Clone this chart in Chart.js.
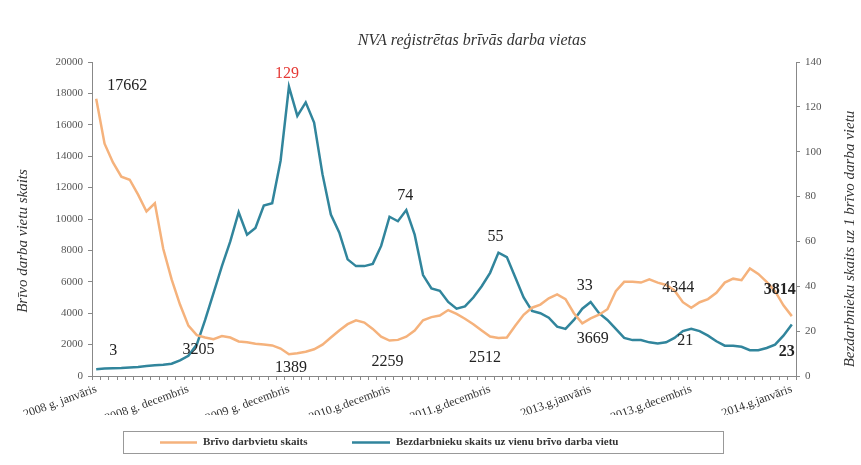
<!DOCTYPE html>
<html><head><meta charset="utf-8">
<script src="https://cdn.jsdelivr.net/npm/chart.js@4.4.1/dist/chart.umd.min.js"></script>
<style>html,body{margin:0;padding:0;background:#fff;}</style>
</head><body>
<canvas id="c" width="861" height="465"></canvas>
<script>
// ---- DATA ----
const chartTitle = 'NVA reģistrētas brīvās darba vietas';
const leftAxisTitle = 'Brīvo darba vietu skaits';
const rightAxisTitle = 'Bezdarbnieku skaits uz 1 brīvo darba vietu';
const seriesNames = ['Brīvo darbvietu skaits', 'Bezdarbnieku skaits uz vienu brīvo darba vietu'];
const tickLabels = ['2008 g. janvāris','2008 g. decembris','2009 g. decembris','2010.g.decembris','2011.g.decembris','2013.g.janvāris','2013.g.decembris','2014.g.janvāris'];
const tickIndex = [0,11,23,35,47,59,71,83];
const vacancies = [17662,14800,13600,12700,12500,11550,10480,11000,8100,6150,4550,3205,
  2600,2450,2350,2550,2450,2200,2150,2050,2000,1950,1750,1389,
  1450,1550,1700,2000,2450,2900,3300,3550,3400,3000,2500,2259,
  2300,2500,2900,3550,3750,3850,4200,3950,3650,3300,2900,2512,
  2420,2450,3200,3900,4350,4550,4950,5200,4900,4000,3350,3669,
  3900,4250,5400,6000,6000,5950,6150,5950,5800,5450,4700,4344,
  4700,4900,5300,5950,6200,6100,6850,6500,6000,5400,4500,3814];
const ratio = [3,3.3,3.5,3.6,3.8,4,4.5,4.8,5,5.5,7,9,
  14,25,37,49,60,73,63,66,76,77,96,129,
  116,122,113,90,72,64,52,49,49,50,58,71,
  69,74,63,45,39,38,33,30,31,35,40,46,
  55,53,44,35,29,28,26,22,21,25,30,33,
  28,25,21,17,16,16,15,14.5,15,17,20,21,
  20,18,15.5,13.5,13.5,13,11.5,11.5,12.5,14,18,23];
const vacancyLabelIdx = [0,11,23,35,47,59,71,83];
const ratioLabelIdx = [0,23,37,48,59,71,83];

// ---- STYLE ----
const orange = '#f5b27c', teal = '#31859c';
const serif = '"Liberation Serif", "Times New Roman", serif';
// label offsets (px) per labelled point, style only
const vacLabelStyle = [
  {dx:31,dy:-13},{dx:10,dy:24},{dx:2,dy:14},{dx:-2,dy:21},{dx:-5,dy:21},{dx:2,dy:20},{dx:-13,dy:-20},{dx:-12,dy:-26,bold:true}];
const ratioLabelStyle = [
  {dx:17,dy:-18},{dx:-2,dy:-13,color:'#e53935'},{dx:-1,dy:-14},{dx:-3,dy:-16},{dx:-6,dy:-16},{dx:-6,dy:12},{dx:-5,dy:27,bold:true}];

const categories = vacancies.map((v,i)=>{const k=tickIndex.indexOf(i);return k>=0?tickLabels[k]:'';});

const overlay = {
  id:'overlay',
  afterDraw(chart){
    const ctx = chart.ctx, ca = chart.chartArea;
    ctx.save();
    ctx.fillStyle = '#333';
    ctx.textAlign='center'; ctx.textBaseline='middle';
    ctx.font = 'italic 16px ' + serif;
    ctx.fillText(chartTitle, (ca.left+ca.right)/2 + 28, 41);
    ctx.font = 'italic 15px ' + serif;
    ctx.save(); ctx.translate(23, (ca.top+ca.bottom)/2 + 22); ctx.rotate(-Math.PI/2);
    ctx.fillText(leftAxisTitle, 0, 0); ctx.restore();
    ctx.save(); ctx.translate(850, (ca.top+ca.bottom)/2 + 20); ctx.rotate(-Math.PI/2);
    ctx.fillText(rightAxisTitle, 0, 0); ctx.restore();
    // data labels
    const drawLabels = (di, idxs, styles, vals) => {
      const meta = chart.getDatasetMeta(di);
      idxs.forEach((idx,k)=>{
        const p = meta.data[idx], s = styles[k];
        ctx.font = (s.bold?'bold ':'') + '16px ' + serif;
        ctx.fillStyle = s.color || '#222';
        ctx.fillText(String(vals[idx]), p.x + s.dx, p.y + s.dy);
      });
    };
    drawLabels(0, vacancyLabelIdx, vacLabelStyle, vacancies);
    drawLabels(1, ratioLabelIdx, ratioLabelStyle, ratio);
    // legend
    const lx = 123, ly = 431, lw = 600, lh = 22;
    ctx.strokeStyle = '#999'; ctx.lineWidth = 1;
    ctx.strokeRect(lx+0.5, ly+0.5, lw, lh);
    const cy = ly + lh/2 + 0.5;
    ctx.lineWidth = 2.5;
    ctx.strokeStyle = orange; ctx.beginPath(); ctx.moveTo(160,cy); ctx.lineTo(197,cy); ctx.stroke();
    ctx.strokeStyle = teal; ctx.beginPath(); ctx.moveTo(352,cy); ctx.lineTo(390,cy); ctx.stroke();
    ctx.font = 'bold 11px ' + serif; ctx.fillStyle = '#333'; ctx.textAlign='left';
    ctx.fillText(seriesNames[0], 203, cy);
    ctx.fillText(seriesNames[1], 396, cy);
    ctx.restore();
  }
};

new Chart(document.getElementById('c'), {
  type:'line',
  data:{
    labels: categories,
    datasets:[
      {label:seriesNames[0], data:vacancies, yAxisID:'y', borderColor:orange, backgroundColor:orange, borderWidth:2.5, pointRadius:0, tension:0},
      {label:seriesNames[1], data:ratio, yAxisID:'y1', borderColor:teal, backgroundColor:teal, borderWidth:2.5, pointRadius:0, tension:0}
    ]
  },
  options:{
    responsive:false, animation:false, devicePixelRatio:1,
    layout:{padding:{top:62, bottom:50, left:0, right:0}},
    plugins:{legend:{display:false}, title:{display:false}, tooltip:{enabled:false}},
    scales:{
      x:{
        type:'category', offset:true,
        grid:{display:true, drawOnChartArea:false, drawTicks:true, tickLength:4, offset:true, color:'#888'},
        border:{color:'#888', width:1},
        ticks:{autoSkip:false, minRotation:20, maxRotation:20, padding:2, color:'#333', font:{family:serif, size:12}},
        afterFit(s){ s.height = 39; }
      },
      y:{
        position:'left', min:0, max:20000,
        grid:{drawOnChartArea:false, drawTicks:true, tickLength:4, color:'#888'},
        border:{color:'#888', width:1},
        ticks:{stepSize:2000, padding:5, color:'#555', font:{family:serif, size:11}, callback:(v)=>String(v)},
        afterFit(s){ s.width = 92; }
      },
      y1:{
        position:'right', min:0, max:140,
        grid:{drawOnChartArea:false, drawTicks:true, tickLength:4, color:'#888'},
        border:{color:'#888', width:1},
        ticks:{stepSize:20, padding:5, color:'#555', font:{family:serif, size:11}, callback:(v)=>String(v)},
        afterFit(s){ s.width = 65; }
      }
    }
  },
  plugins:[overlay]
});
</script>
</body></html>
